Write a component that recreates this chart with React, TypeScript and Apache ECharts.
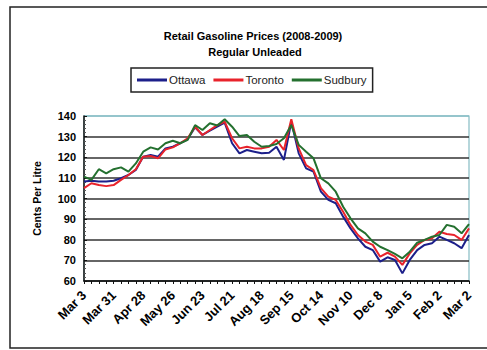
import React, { useEffect, useRef } from "react";
import * as echarts from "echarts";

const weeks: string[] = [
  "Mar 3", "Mar 10", "Mar 17", "Mar 24", "Mar 31",
  "Apr 7", "Apr 14", "Apr 21", "Apr 28",
  "May 5", "May 12", "May 19", "May 26",
  "Jun 2", "Jun 9", "Jun 16", "Jun 23", "Jun 30",
  "Jul 7", "Jul 14", "Jul 21", "Jul 28",
  "Aug 4", "Aug 11", "Aug 18", "Aug 25",
  "Sep 1", "Sep 8", "Sep 15", "Sep 22", "Sep 29",
  "Oct 6", "Oct 14", "Oct 20", "Oct 27",
  "Nov 3", "Nov 10", "Nov 17", "Nov 24",
  "Dec 1", "Dec 8", "Dec 15", "Dec 22", "Dec 29",
  "Jan 5", "Jan 12", "Jan 19", "Jan 26",
  "Feb 2", "Feb 9", "Feb 16", "Feb 23",
  "Mar 2",
];

const ottawa: number[] = [
  108.2, 108.6, 108.2, 108.2, 108.6, 109.8, 111.4, 113.8, 120.3, 121.1,
  120.3, 124.3, 125.1, 126.8, 128.7, 134.5, 130.8, 132.9, 134.8, 136.8,
  126.8, 121.9, 123.5, 122.7, 121.9, 122.2, 125.1, 118.7, 137.2, 121.9,
  114.6, 113.0, 103.3, 99.3, 97.7, 91.2, 85.5, 80.7, 76.6, 75.0,
  69.4, 71.5, 70.2, 63.7, 70.2, 75.0, 77.5, 78.3, 81.5, 79.9,
  78.3, 75.9, 82.3,
];

const toronto: number[] = [
  105.0, 107.4, 106.5, 106.0, 106.5, 109.0, 111.4, 114.2, 120.3, 120.6,
  119.5, 123.8, 124.8, 126.8, 129.2, 134.8, 130.8, 133.2, 135.6, 137.2,
  129.2, 124.3, 125.1, 124.3, 124.3, 125.1, 128.4, 123.5, 138.4, 124.3,
  116.2, 113.8, 105.0, 100.9, 99.3, 93.6, 87.2, 82.3, 79.1, 77.5,
  71.8, 73.7, 71.8, 67.8, 73.4, 77.5, 79.9, 80.7, 83.9, 82.8,
  82.3, 79.9, 85.5,
];

const sudbury: number[] = [
  110.6, 109.0, 114.2, 112.2, 114.2, 115.1, 113.0, 117.0, 122.7, 124.8,
  123.8, 126.8, 128.0, 126.8, 128.4, 135.6, 133.2, 136.5, 135.4, 138.4,
  134.8, 130.3, 130.8, 127.5, 125.1, 125.5, 126.4, 129.2, 135.6, 126.0,
  122.7, 119.5, 109.8, 107.3, 103.3, 96.0, 90.4, 85.5, 83.1, 79.1,
  76.6, 75.0, 73.1, 71.0, 74.2, 78.6, 79.9, 81.5, 82.3, 87.2,
  86.3, 83.1, 87.6,
];

const yTicks: number[] = [60, 70, 80, 90, 100, 110, 120, 130, 140];

const FONT = 'Arial, "Liberation Sans", sans-serif';

export default function App() {
  const ref = useRef<HTMLDivElement>(null);
  useEffect(() => {
    if (!ref.current) return;
    const chart = echarts.init(ref.current, undefined, { renderer: "svg" });
    const gridColors = yTicks.map((v) => (v === 140 ? "#86bcc4" : "#333333"));
    chart.setOption({
      animation: false,
      backgroundColor: "#ffffff",
      textStyle: { fontFamily: FONT },
      graphic: [
        {
          type: "rect",
          shape: { x: 10, y: 7, width: 485, height: 341 },
          style: { fill: "none", stroke: "#222", lineWidth: 1.5 },
          z: 0,
        },
        {
          type: "text",
          x: 253,
          y: 36,
          style: {
            text: "Retail Gasoline Prices (2008-2009)",
            fontFamily: FONT,
            fontSize: 11,
            fontWeight: "bold",
            fill: "#000",
            align: "center",
            verticalAlign: "middle",
          },
        },
        {
          type: "text",
          x: 255,
          y: 52,
          style: {
            text: "Regular Unleaded",
            fontFamily: FONT,
            fontSize: 11,
            fontWeight: "bold",
            fill: "#000",
            align: "center",
            verticalAlign: "middle",
          },
        },
      ],
      legend: {
        left: 131,
        top: 68,
        orient: "horizontal",
        padding: [6, 6, 6, 6],
        itemGap: 8,
        itemWidth: 30,
        itemHeight: 3,
        icon: "rect",
        borderColor: "#222",
        borderWidth: 1.5,
        textStyle: { fontSize: 11.5, color: "#222", fontFamily: FONT, padding: [0, 0, 0, -3] },
        data: ["Ottawa", "Toronto", "Sudbury"],
      },
      grid: {
        left: 84,
        top: 116,
        width: 385,
        height: 165,
        show: true,
        borderColor: "#86bcc4",
        borderWidth: 1.2,
        backgroundColor: "#ffffff",
        containLabel: false,
      },
      xAxis: {
        type: "category",
        data: weeks,
        boundaryGap: false,
        axisLine: { show: true, lineStyle: { color: "#111", width: 1.5 } },
        axisTick: { show: true, interval: 0, length: 3, lineStyle: { color: "#111" } },
        axisLabel: {
          interval: 3,
          rotate: 45,
          fontSize: 13,
          fontWeight: "bold",
          color: "#000",
          fontFamily: FONT,
          margin: 12,
        },
        splitLine: { show: false },
      },
      yAxis: {
        type: "value",
        min: 60,
        max: 140,
        interval: 10,
        name: "Cents Per Litre",
        nameLocation: "middle",
        nameGap: 42,
        nameTextStyle: { fontSize: 10.5, fontWeight: "bold", color: "#000", fontFamily: FONT },
        axisLine: { show: true, lineStyle: { color: "#111", width: 1.5 } },
        axisTick: { show: true, inside: true, length: 3, lineStyle: { color: "#111" } },
        minorTick: { show: true, splitNumber: 5, length: 2, lineStyle: { color: "#555" } },
        axisLabel: {
          fontSize: 11,
          fontWeight: "bold",
          color: "#000",
          fontFamily: FONT,
          margin: 8,
        },
        splitLine: { show: true, lineStyle: { color: gridColors, width: 1.5 } },
      },
      series: [
        {
          name: "Ottawa",
          type: "line",
          data: ottawa,
          symbol: "none",
          lineStyle: { color: "#1c1f8a", width: 2 },
          itemStyle: { color: "#1c1f8a" },
        },
        {
          name: "Toronto",
          type: "line",
          data: toronto,
          symbol: "none",
          lineStyle: { color: "#e8232b", width: 2 },
          itemStyle: { color: "#e8232b" },
        },
        {
          name: "Sudbury",
          type: "line",
          data: sudbury,
          symbol: "none",
          lineStyle: { color: "#24702f", width: 2 },
          itemStyle: { color: "#24702f" },
        },
      ],
    });
    return () => chart.dispose();
  }, []);
  return (
    <div
      ref={ref}
      style={{ position: "fixed", left: 0, top: 0, width: 487, height: 350 }}
    />
  );
}
